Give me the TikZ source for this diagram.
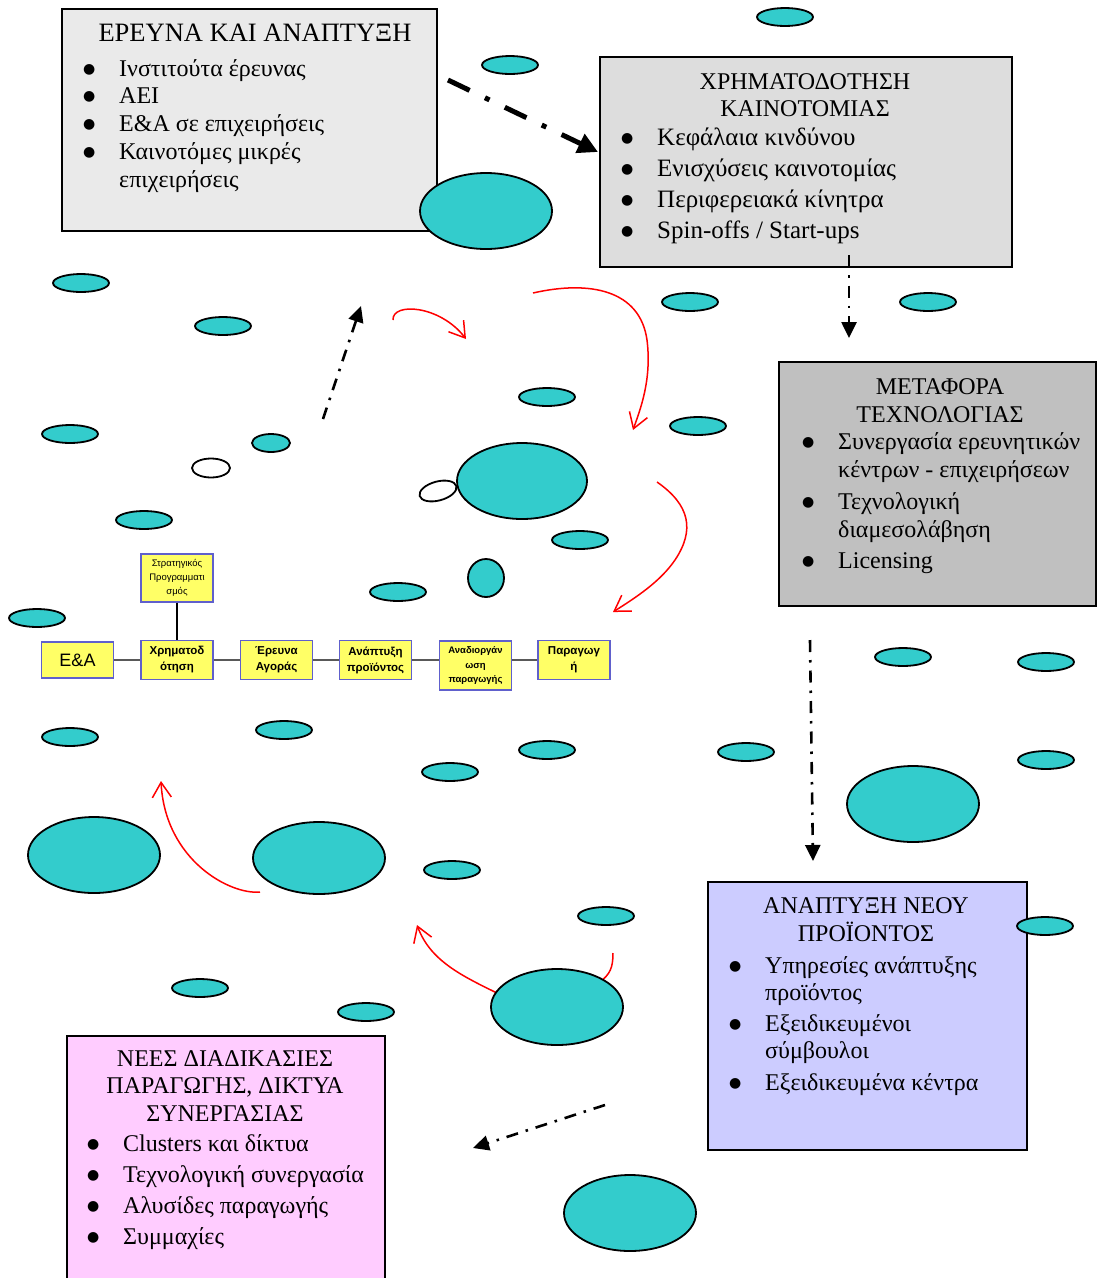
\documentclass[tikz,border=0pt]{standalone}
\usepackage{fontspec}
\setmainfont{Liberation Serif}
\setsansfont{Liberation Sans}
\newfontfamily\dotfont{DejaVu Sans}
\usetikzlibrary{arrows.meta}
\definecolor{blobfill}{RGB}{51,204,204}
\definecolor{rowfill}{RGB}{255,255,102}
\definecolor{rowedge}{RGB}{96,96,204}
\definecolor{rndfill}{RGB}{234,234,234}
\definecolor{fundfill}{RGB}{221,221,221}
\definecolor{transfill}{RGB}{192,192,192}
\definecolor{prodfill}{RGB}{204,204,255}
\definecolor{netfill}{RGB}{255,204,255}
% \bul: bullet column of the lists, \bulgap: same width, empty
\newcommand{\bul}{\makebox[36pt][l]{\raisebox{3pt}{\dotfont\fontsize{14}{14}\selectfont ●}}}
\newcommand{\bulgap}{\hspace*{36pt}}

\begin{document}
\begin{tikzpicture}[x=1pt, y=-1pt,
    panel/.style={draw=black, line width=1.6pt, anchor=north west, inner sep=0pt},
    head/.style={anchor=base, inner sep=0pt, font=\fontsize{24}{28}\selectfont},
    items/.style={anchor=base west, inner sep=0pt},
    blob/.style={draw=black, line width=1.8pt, fill=blobfill},
    hollow/.style={draw=black, line width=1.8pt, fill=white},
    stage/.style={draw=rowedge, line width=1.1pt, fill=rowfill, inner sep=0pt, minimum width=72pt,
      minimum height=39pt, align=center, font=\sffamily\bfseries\fontsize{11.5}{16}\selectfont},
    link/.style={draw=gray!70!black, line width=1.1pt},
    flow/.style={red, line width=1.5pt, -{Straight Barb[length=15pt,width=19pt]}},
    hop/.style={black, line width=2.6pt, dash pattern=on 12pt off 8pt on 2.5pt off 8pt,
      -{Triangle[length=16pt,width=15pt]}},
    bighop/.style={black, line width=5pt, dash pattern=on 24pt off 17pt on 5pt off 17pt,
      -{Triangle[length=20pt,width=20pt]}}]
  \path[use as bounding box, fill=white] (0,0) rectangle (1096,1278);
  % ---------------- panels ----------------
  \node[panel, fill=rndfill, minimum width=375pt, minimum height=222pt] (rnd) at (61,8) {};
  \node[panel, fill=fundfill, minimum width=412pt, minimum height=210pt] (fund) at (599,56) {};
  \node[panel, fill=transfill, minimum width=317pt, minimum height=244pt] (transfer) at (778,361) {};
  \node[panel, fill=prodfill, minimum width=319pt, minimum height=268pt] (newprod) at (707,881) {};
  \node[panel, fill=netfill, minimum width=318pt, minimum height=260pt] (netw) at (66,1035) {};
  % ---------------- red flows ----------------
  \coordinate (f1a) at (393,320);  \coordinate (f1b) at (466,339);
  \coordinate (f2a) at (533,293);  \coordinate (f2b) at (633,430);
  \coordinate (f3a) at (657,482);  \coordinate (f3b) at (613,612);
  \coordinate (f4a) at (260,892);  \coordinate (f4b) at (161,781);
  \coordinate (f5a) at (497,993);  \coordinate (f5b) at (417,925);
  \coordinate (f6a) at (613,953);  \coordinate (f6b) at (600,982);
  \draw[flow] (f1a) .. controls (392,302) and (440,305) .. (f1b);
  \draw[flow] (f2a) .. controls (590,280) and (640,290) .. (647,340) .. controls (652,380) and (640,410) .. (f2b);
  \draw[flow] (f3a) .. controls (690,505) and (695,530) .. (675,560) .. controls (660,582) and (635,598) .. (f3b);
  \draw[flow] (f4a) .. controls (230,895) and (165,860) .. (f4b);
  \draw[flow] (f5a) .. controls (460,975) and (430,960) .. (f5b);
  \draw[red, line width=1.5pt] (f6a) .. controls (613,968) and (610,974) .. (f6b);
  % ---------------- dash-dot arrows ----------------
  \coordinate (h1a) at (448,80);   \coordinate (h1b) at (598,152);
  \coordinate (h2a) at (849,255);  \coordinate (h2b) at (849,338);
  \coordinate (h3a) at (323,419);  \coordinate (h3b) at (361,306);
  \coordinate (h4a) at (810,640);  \coordinate (h4b) at (813,861);
  \coordinate (h5a) at (605,1105); \coordinate (h5b) at (473,1148);
  \draw[bighop] (h1a) -- (h1b);
  \draw[hop] (h2a) -- (h2b);
  \draw[hop] (h3a) -- (h3b);
  \draw[hop] (h4a) -- (h4b);
  \draw[hop] (h5a) -- (h5b);
  % ---------------- cells ----------------
  \foreach \x/\y/\rx/\ry in {785/17/28/9, 510/65/28/9, 486/211/66/38, 81/283/28/9, 223/326/28/9,
      690/302/28/9, 928/302/28/9, 547/397/28/9, 70/434/28/9, 271/443/19/9, 698/426/28/9,
      522/481/65/38, 144/520/28/9, 580/540/28/9, 486/578/18/19, 398/592/28/9, 37/618/28/9,
      903/657/28/9, 1046/662/28/9, 70/737/28/9, 284/730/28/9, 547/750/28/9, 450/772/28/9,
      746/752/28/9, 1046/760/28/9, 913/804/66/38, 94/855/66/38, 319/858/66/36, 452/870/28/9,
      606/916/28/9, 1045/926/28/9, 557/1007/66/38, 200/988/28/9, 366/1012/28/9, 630/1213/66/38}
    \draw[blob] (\x,\y) ellipse [x radius=\rx pt, y radius=\ry pt];
  \draw[hollow] (211,468) ellipse [x radius=19pt, y radius=9.5pt];
  \draw[hollow, rotate around={15:(438,491)}] (438,491) ellipse [x radius=19pt, y radius=9.5pt];
  % ---------------- stages ----------------
  \node[stage, minimum height=36pt, font=\sffamily\fontsize{18}{20}\selectfont] (ea) at (77.5,660) {Ε\&Α};
  \node[stage] (fin) at (177,660) {Χρηματοδ\\ότηση};
  \node[stage] (mkt) at (276.5,660) {Έρευνα\\Αγοράς};
  \node[stage] (dev) at (375.5,660) {Ανάπτυξη\\προϊόντος};
  \node[stage, minimum height=49pt, font=\sffamily\bfseries\fontsize{9.5}{14.5}\selectfont] (reorg) at (475.5,665.5) {Αναδιοργάν\\ωση\\παραγωγής};
  \node[stage] (prod) at (574,660) {Παραγωγ\\ή};
  \node[stage, minimum height=48pt, font=\sffamily\fontsize{9.5}{14}\selectfont] (strat) at (177,578) {Στρατηγικός\\Προγραμματι\\σμός};
  \draw[link] (ea) -- (fin);
  \draw[link] (fin) -- (mkt);
  \draw[link] (mkt) -- (dev);
  \draw[link] (dev.east) -- (dev.east -| reorg.west);
  \draw[link] (reorg.east |- prod.west) -- (prod.west);
  \draw[black, line width=1.1pt] (strat) -- (fin);
  % ---------------- texts ----------------
  \node[head, font=\fontsize{26.5}{28}\selectfont] (rnd-t) at (255,41) {ΕΡΕΥΝΑ ΚΑΙ ΑΝΑΠΤΥΞΗ};
  \node[items, font=\fontsize{24}{27.75}\selectfont] (rnd-l) at (83,76) {\begin{tabular}[t]{@{}l@{}}
    \bul Ινστιτούτα έρευνας\\ \bul ΑΕΙ\\ \bul Ε\&Α σε επιχειρήσεις\\
    \bul Καινοτόμες μικρές\\ \bulgap επιχειρήσεις\end{tabular}};
  \node[head, font=\fontsize{24}{27}\selectfont] (fund-t) at (805,89) {\begin{tabular}[t]{@{}c@{}}
    ΧΡΗΜΑΤΟΔΟΤΗΣΗ\\ ΚΑΙΝΟΤΟΜΙΑΣ\end{tabular}};
  \node[items, font=\fontsize{25}{31}\selectfont] (fund-l) at (621,145) {\begin{tabular}[t]{@{}l@{}}
    \bul Κεφάλαια κινδύνου\\ \bul Ενισχύσεις καινοτομίας\\ \bul Περιφερειακά κίνητρα\\
    \bul Spin-offs / Start-ups\end{tabular}};
  \node[head] (transfer-t) at (940,394) {\begin{tabular}[t]{@{}c@{}}
    ΜΕΤΑΦΟΡΑ\\ ΤΕΧΝΟΛΟΓΙΑΣ\end{tabular}};
  \node[items, font=\fontsize{24}{28}\selectfont] (transfer-l) at (802,449) {\begin{tabular}[t]{@{}l@{}}
    \bul Συνεργασία ερευνητικών\\ \bulgap κέντρων - επιχειρήσεων\\[4pt]
    \bul Τεχνολογική\\ \bulgap διαμεσολάβηση\\[3pt] \bul Licensing\end{tabular}};
  \node[head] (newprod-t) at (866,913) {\begin{tabular}[t]{@{}c@{}}
    ΑΝΑΠΤΥΞΗ ΝΕΟΥ\\ ΠΡΟΪΟΝΤΟΣ\end{tabular}};
  \node[items, font=\fontsize{24}{27}\selectfont] (newprod-l) at (729,973) {\begin{tabular}[t]{@{}l@{}}
    \bul Υπηρεσίες ανάπτυξης\\ \bulgap προϊόντος\\[4pt]
    \bul Εξειδικευμένοι\\ \bulgap σύμβουλοι\\[5pt] \bul Εξειδικευμένα κέντρα\end{tabular}};
  \node[head, font=\fontsize{24}{27.5}\selectfont] (netw-t) at (225,1066) {\begin{tabular}[t]{@{}c@{}}
    ΝΕΕΣ ΔΙΑΔΙΚΑΣΙΕΣ\\ ΠΑΡΑΓΩΓΗΣ, ΔΙΚΤΥΑ\\ ΣΥΝΕΡΓΑΣΙΑΣ\end{tabular}};
  \node[items, font=\fontsize{24}{31}\selectfont] (netw-l) at (87,1151) {\begin{tabular}[t]{@{}l@{}}
    \bul Clusters και δίκτυα\\ \bul Τεχνολογική συνεργασία\\ \bul Αλυσίδες παραγωγής\\
    \bul Συμμαχίες\end{tabular}};
\end{tikzpicture}
\end{document}
